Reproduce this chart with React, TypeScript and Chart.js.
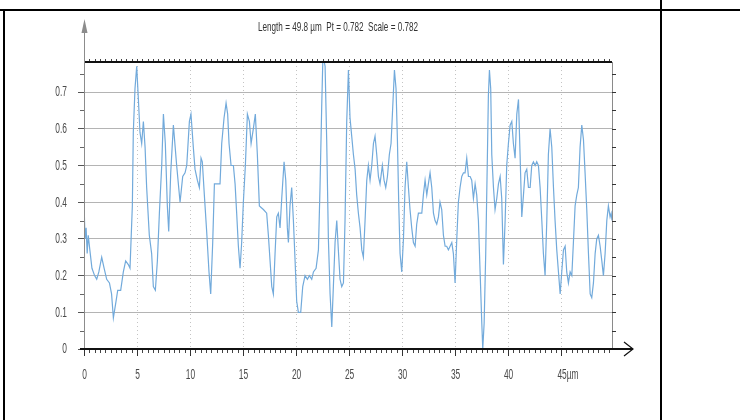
import React, { useEffect, useRef } from "react";
import { Chart, registerables } from "chart.js";

Chart.register(...registerables);

// Profile positions along the trace (µm)
const positionsUm: number[] = [
  0, 0.1, 0.2, 0.3, 0.4, 0.55, 0.75, 1.0, 1.2, 1.4, 1.67, 1.9, 2.14, 2.4, 2.6, 2.77, 3.02, 3.18, 3.46, 3.71,
  3.93, 4.18, 4.34, 4.56, 4.65, 4.81, 4.97, 5.13, 5.28, 5.44, 5.6, 5.76, 5.91, 6.16, 6.38, 6.54, 6.73, 6.92, 7.11, 7.33,
  7.49, 7.67, 7.86, 7.99, 8.18, 8.43,
  8.74, 9.06, 9.31, 9.53, 9.69, 9.94, 10.09, 10.31, 10.47, 10.69, 10.88, 11.04, 11.16, 11.35, 11.57, 11.79, 11.95, 12.14,
  12.3, 12.52, 12.83, 12.99, 13.21, 13.4, 13.55, 13.68, 13.87, 14.09, 14.25, 14.4, 14.56, 14.72, 14.87, 15.03, 15.22,
  15.41, 15.6, 15.76, 15.97, 16.16, 16.35, 16.54,
  16.92, 17.23, 17.39, 17.55, 17.71, 17.86, 18.02, 18.18, 18.33, 18.49, 18.65, 18.87, 19.03, 19.18, 19.28, 19.43,
  19.59, 19.75, 19.91, 20.06, 20.22, 20.44, 20.63, 20.85, 21.07, 21.26, 21.48, 21.64, 21.89, 22.11, 22.26, 22.42,
  22.52, 22.66, 22.74, 22.89, 23.05, 23.21, 23.37, 23.52, 23.68, 23.84, 23.99, 24.15, 24.31, 24.47, 24.62, 24.78,
  24.94, 25.09, 25.25, 25.41,
  25.57, 25.72, 25.88, 26.04, 26.2, 26.35, 26.51, 26.67, 26.82, 26.98, 27.14, 27.3, 27.45, 27.61, 27.77, 27.92, 28.14,
  28.3, 28.46, 28.62, 28.8, 28.96, 29.12, 29.28, 29.43, 29.56, 29.69, 29.81, 29.97, 30.13, 30.28, 30.44, 30.6, 30.75,
  30.91, 31.07, 31.23, 31.38, 31.54, 31.7, 31.86, 32.01, 32.17, 32.33, 32.48, 32.64, 32.8, 32.96, 33.11, 33.27, 33.43,
  33.58,
  33.74, 33.9, 34.06, 34.21, 34.37, 34.53, 34.69, 34.84, 35.0, 35.16, 35.31, 35.47, 35.63, 35.79, 35.94, 36.1, 36.26,
  36.42, 36.57, 36.73, 36.89, 37.04, 37.2, 37.36, 37.52, 37.61, 37.74, 37.89, 38.05, 38.14, 38.24, 38.36, 38.46, 38.62,
  38.77, 38.93, 39.09, 39.25, 39.4, 39.56, 39.72, 39.87, 40.03, 40.19, 40.35, 40.5, 40.66, 40.82, 40.98, 41.13, 41.29,
  41.45, 41.6, 41.76, 41.92,
  42.08, 42.23, 42.39, 42.55, 42.7, 42.86, 43.02, 43.18, 43.33, 43.49, 43.65, 43.8, 43.96, 44.12, 44.28, 44.43, 44.59,
  44.75, 44.91, 45.06, 45.22, 45.38, 45.53, 45.69, 45.85, 46.01, 46.16, 46.32, 46.48, 46.63, 46.79, 46.95, 47.11, 47.26,
  47.42, 47.58, 47.74, 47.89, 48.05, 48.21, 48.36, 48.52, 48.68, 48.84, 48.99, 49.15, 49.31, 49.46, 49.62, 49.72, 49.8,
];

// Profile heights (µm)
const heights: number[] = [
  0.4, 0.3, 0.33, 0.26, 0.31, 0.27, 0.22, 0.2, 0.19, 0.21, 0.25, 0.22, 0.19, 0.18, 0.15, 0.085, 0.13, 0.16, 0.16, 0.21,
  0.24, 0.23, 0.22, 0.39, 0.59, 0.71, 0.77, 0.68, 0.59, 0.56, 0.62, 0.55, 0.44, 0.31, 0.26, 0.17, 0.16, 0.24, 0.37, 0.5,
  0.64, 0.56, 0.39, 0.32, 0.48, 0.61,
  0.5, 0.4, 0.47, 0.48, 0.5, 0.62, 0.64, 0.55, 0.49, 0.46, 0.44, 0.52, 0.51, 0.42, 0.32, 0.21, 0.15, 0.29,
  0.45, 0.45, 0.45, 0.56, 0.63, 0.67, 0.64, 0.56, 0.5, 0.5, 0.45, 0.37, 0.28, 0.22, 0.29, 0.4, 0.5,
  0.64, 0.62, 0.56, 0.6, 0.64, 0.53, 0.39,
  0.38, 0.37, 0.31, 0.24, 0.17, 0.15, 0.26, 0.36, 0.37, 0.33, 0.41, 0.51, 0.46, 0.33, 0.29, 0.39,
  0.44, 0.35, 0.24, 0.13, 0.1, 0.1, 0.17, 0.2, 0.19, 0.2, 0.19, 0.21, 0.22, 0.27, 0.44, 0.66,
  0.78, 0.782, 0.77, 0.57, 0.3, 0.15, 0.06, 0.17, 0.29, 0.35, 0.27, 0.19, 0.17, 0.18, 0.35, 0.62,
  0.76, 0.63, 0.58, 0.53,
  0.49, 0.42, 0.37, 0.33, 0.27, 0.25, 0.35, 0.46, 0.5, 0.46, 0.5, 0.56, 0.58, 0.53, 0.47, 0.45, 0.5,
  0.46, 0.44, 0.47, 0.53, 0.56, 0.66, 0.76, 0.71, 0.57, 0.39, 0.26, 0.21, 0.3, 0.44, 0.51, 0.44, 0.38,
  0.33, 0.29, 0.28, 0.34, 0.37, 0.37, 0.37, 0.42, 0.46, 0.42, 0.45, 0.48, 0.44, 0.37, 0.35, 0.34, 0.36,
  0.4,
  0.38, 0.31, 0.28, 0.28, 0.27, 0.28, 0.29, 0.26, 0.18, 0.3, 0.4, 0.44, 0.47, 0.48, 0.48, 0.52, 0.47,
  0.47, 0.46, 0.41, 0.45, 0.42, 0.35, 0.21, 0.07, 0.0, 0.07, 0.26, 0.53, 0.69, 0.76, 0.71, 0.53, 0.44,
  0.38, 0.41, 0.45, 0.47, 0.41, 0.23, 0.35, 0.5, 0.56, 0.61, 0.62, 0.56, 0.52, 0.64, 0.68, 0.53, 0.36,
  0.42, 0.48, 0.49, 0.44,
  0.44, 0.5, 0.51, 0.5, 0.51, 0.5, 0.44, 0.35, 0.26, 0.2, 0.35, 0.53, 0.6, 0.55, 0.44, 0.35, 0.27,
  0.21, 0.15, 0.21, 0.27, 0.28, 0.21, 0.18, 0.21, 0.2, 0.29, 0.39, 0.42, 0.44, 0.55, 0.61, 0.57, 0.48,
  0.38, 0.26, 0.15, 0.14, 0.18, 0.26, 0.3, 0.31, 0.28, 0.24, 0.2, 0.26, 0.35, 0.39, 0.36, 0.37, 0.35,
];

const xTickValues: number[] = [0, 5, 10, 15, 20, 25, 30, 35, 40, 45];
const yTickValues: number[] = [0, 0.1, 0.2, 0.3, 0.4, 0.5, 0.6, 0.7];
const xUnitLabel = "µm";
const profileLength = 49.8;
const profileRt = 0.782;
const titleText = "Length = 49.8 µm  Pt = 0.782  Scale = 0.782";

const FONT = "'Liberation Sans', Arial, sans-serif";
const LABEL_SQUEEZE = 0.6;

const drawNarrow = (ctx: any, text: string, x: number, y: number, align: string, sx: number) => {
  ctx.save();
  ctx.translate(x, y);
  ctx.scale(sx, 1);
  ctx.textAlign = align;
  ctx.textBaseline = "middle";
  ctx.fillText(text, 0, 0);
  ctx.restore();
};

const decorPlugin = {
  id: "profileDecor",
  afterDraw(chart: any) {
    const { ctx, chartArea: a, scales } = chart;
    const xs = scales.x;
    const ys = scales.y;
    ctx.save();
    const seg = (x1: number, y1: number, x2: number, y2: number) => {
      ctx.beginPath();
      ctx.moveTo(x1, y1);
      ctx.lineTo(x2, y2);
      ctx.stroke();
    };
    // right border + outward ticks
    ctx.strokeStyle = "#8a8a8a";
    ctx.lineWidth = 1;
    seg(a.right + 0.5, a.top, a.right + 0.5, a.bottom);
    ctx.strokeStyle = "#333";
    for (let v = 0.05; v < profileRt; v += 0.05) {
      const py = Math.round(ys.getPixelForValue(v)) + 0.5;
      seg(a.right, py, a.right + 4, py);
    }
    // left minor ticks
    ctx.strokeStyle = "#666";
    for (let v = 0.05; v < profileRt; v += 0.1) {
      const py = Math.round(ys.getPixelForValue(v)) + 0.5;
      seg(a.left - 4, py, a.left, py);
    }
    // top border with ticks
    ctx.strokeStyle = "#444";
    for (let v = 0.5; v < profileLength; v += 0.5) {
      const px = Math.round(xs.getPixelForValue(v)) + 0.5;
      seg(px, a.top - 3, px, a.top);
    }
    ctx.strokeStyle = "#111";
    ctx.lineWidth = 2;
    seg(a.left, a.top, a.right, a.top);
    // y axis arrow (gray)
    ctx.strokeStyle = "#8c8c8c";
    ctx.lineWidth = 1;
    seg(a.left + 0.5, a.bottom, a.left + 0.5, 30);
    ctx.fillStyle = "#8c8c8c";
    ctx.beginPath();
    ctx.moveTo(a.left + 0.5, 19);
    ctx.lineTo(a.left - 2.5, 33);
    ctx.lineTo(a.left + 3.5, 33);
    ctx.closePath();
    ctx.fill();
    // x minor ticks
    ctx.strokeStyle = "#444";
    ctx.lineWidth = 1;
    for (let v = 0.5; v < profileLength; v += 0.5) {
      if (Math.abs(v / 5 - Math.round(v / 5)) < 1e-6) continue;
      const px = Math.round(xs.getPixelForValue(v)) + 0.5;
      seg(px, a.bottom, px, a.bottom + 4);
    }
    // x axis with open arrow
    ctx.strokeStyle = "#111";
    ctx.lineWidth = 2;
    seg(a.left - 4, a.bottom, a.right + 21, a.bottom);
    ctx.lineWidth = 1.2;
    ctx.beginPath();
    ctx.moveTo(a.right + 12, a.bottom - 7);
    ctx.lineTo(a.right + 21, a.bottom);
    ctx.lineTo(a.right + 12, a.bottom + 7);
    ctx.stroke();

    // tick labels (narrow)
    ctx.fillStyle = "#4a4a4a";
    ctx.font = "14px " + FONT;
    yTickValues.forEach((v) => {
      const py = ys.getPixelForValue(v);
      drawNarrow(ctx, String(v), a.left - 17, py + 0.5, "right", LABEL_SQUEEZE);
    });
    xTickValues.forEach((v, i) => {
      const px = xs.getPixelForValue(v);
      const num = String(v);
      if (i === xTickValues.length - 1) {
        const w = ctx.measureText(num).width * LABEL_SQUEEZE;
        drawNarrow(ctx, num + xUnitLabel, px - w / 2 + 1, 375, "left", LABEL_SQUEEZE);
      } else {
        drawNarrow(ctx, num, px + 0.5, 375, "center", LABEL_SQUEEZE);
      }
    });

    // title
    ctx.fillStyle = "#333";
    ctx.font = "13px " + FONT;
    const tw = ctx.measureText(titleText).width;
    drawNarrow(ctx, titleText, 338, 27, "center", 160 / tw);
    ctx.restore();
  },
};

export default function App() {
  const ref = useRef<HTMLCanvasElement | null>(null);
  useEffect(() => {
    if (!ref.current) return;
    const points = positionsUm.map((x, i) => ({ x, y: heights[i] }));
    const chart = new Chart(ref.current, {
      type: "line",
      data: {
        datasets: [
          {
            data: points,
            borderColor: "#72aadb",
            borderWidth: 1.2,
            pointRadius: 0,
            tension: 0,
            fill: false,
          },
        ],
      },
      options: {
        responsive: false,
        animation: false,
        devicePixelRatio: 1,
        layout: { padding: { left: 0, right: 128, top: 62, bottom: 0 } },
        plugins: {
          legend: { display: false },
          tooltip: { enabled: false },
          title: { display: false },
        },
        scales: {
          x: {
            type: "linear",
            min: 0,
            max: profileLength,
            afterFit: (s: any) => {
              s.height = 71;
            },
            afterBuildTicks: (s: any) => {
              s.ticks = xTickValues.map((v) => ({ value: v }));
            },
            ticks: { display: false, autoSkip: false },
            grid: {
              color: "#c4c4c4",
              lineWidth: 1,
              drawTicks: true,
              tickLength: 7,
              tickColor: "#333",
            },
            border: { display: false, dash: [1, 3] },
          },
          y: {
            type: "linear",
            min: 0,
            max: profileRt,
            afterFit: (s: any) => {
              s.width = 84;
            },
            afterBuildTicks: (s: any) => {
              s.ticks = yTickValues.map((v) => ({ value: v }));
            },
            ticks: { display: false, autoSkip: false },
            grid: {
              color: "#b4b4b4",
              lineWidth: 1,
              drawTicks: true,
              tickLength: 6,
              tickColor: "#555",
            },
            border: { display: false },
          },
        },
      },
      plugins: [decorPlugin],
    });
    return () => chart.destroy();
  }, []);
  return (
    <div style={{ position: "fixed", left: 0, top: 0, width: 740, height: 420, background: "#fff" }}>
      <canvas
        ref={ref}
        width={740}
        height={420}
        style={{ position: "absolute", left: 0, top: 0, width: 740, height: 420 }}
      />
      <div style={{ position: "absolute", left: 0, top: 9, width: 740, height: 2, background: "#000" }} />
      <div style={{ position: "absolute", left: 3, top: 9, width: 2, height: 411, background: "#000" }} />
      <div style={{ position: "absolute", left: 660, top: 0, width: 2, height: 420, background: "#000" }} />
    </div>
  );
}
